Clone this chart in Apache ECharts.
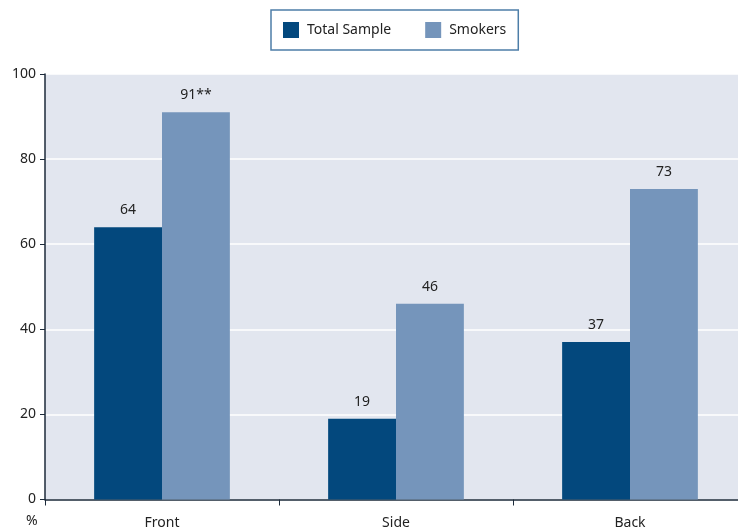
<!DOCTYPE html>
<html><head><meta charset="utf-8">
<script src="https://cdn.jsdelivr.net/npm/echarts@6/dist/echarts.min.js"></script>
<style>html,body{margin:0;padding:0;background:#fff}#c{width:738px;height:532px}</style>
</head><body><div id="c"></div>
<script>
const categories = ['Front', 'Side', 'Back'];
const totalSample = [64, 19, 37];
const smokers = [91, 46, 73];
const smokerLabels = ['91**', '46', '73'];
const yTicks = [0, 20, 40, 60, 80, 100];

const chart = echarts.init(document.getElementById('c'));
const font = 'Noto Sans';
chart.setOption({
  animation: false,
  backgroundColor: '#ffffff',
  textStyle: { fontFamily: font },
  legend: {
    top: 10, left: 271,
    itemWidth: 16, itemHeight: 16, itemGap: 34,
    padding: [12, 12, 12, 12],
    borderColor: '#4d7ea8', borderWidth: 1.5,
    textStyle: { fontFamily: font, fontSize: 14, color: '#222', padding: [0, 0, 0, 3] },
    icon: 'rect',
    data: ['Total Sample', 'Smokers']
  },
  grid: { left: 45, top: 74, width: 702, height: 425.5, containLabel: false, outerBoundsMode: 'none',
          show: true, backgroundColor: '#e2e6ef', borderWidth: 0 },
  xAxis: {
    type: 'category', data: categories,
    axisLine: { lineStyle: { color: '#1c2a3a', width: 1.5 } },
    axisTick: { show: true, length: 6, lineStyle: { color: '#1c2a3a' } },
    axisLabel: { fontFamily: font, fontSize: 14, color: '#222', margin: 17 }
  },
  yAxis: {
    type: 'value', min: yTicks[0], max: yTicks[yTicks.length - 1], interval: 20,
    axisLine: { show: true, lineStyle: { color: '#1c2a3a', width: 1.5 } },
    axisTick: { show: true, length: 5, lineStyle: { color: '#1c2a3a' } },
    axisLabel: { fontFamily: font, fontSize: 14, color: '#222', margin: 9 },
    splitLine: { show: true, lineStyle: { color: '#ffffff', width: 1.5 } }
  },
  graphic: [{ type: 'text', left: 26, top: 514, style: { text: '%', fontFamily: font, fontSize: 14, fill: '#222' } }],
  series: [
    { name: 'Total Sample', type: 'bar', data: totalSample, barGap: '0%', barCategoryGap: '42%',
      itemStyle: { color: '#03487d' },
      label: { show: true, position: 'top', distance: 10, fontFamily: font, fontSize: 14, color: '#222' } },
    { name: 'Smokers', type: 'bar', data: smokers, barGap: '0%', barCategoryGap: '42%',
      itemStyle: { color: '#7595bb' },
      label: { show: true, position: 'top', distance: 10, fontFamily: font, fontSize: 14, color: '#222',
               formatter: p => smokerLabels[p.dataIndex] } }
  ]
});
</script></body></html>
